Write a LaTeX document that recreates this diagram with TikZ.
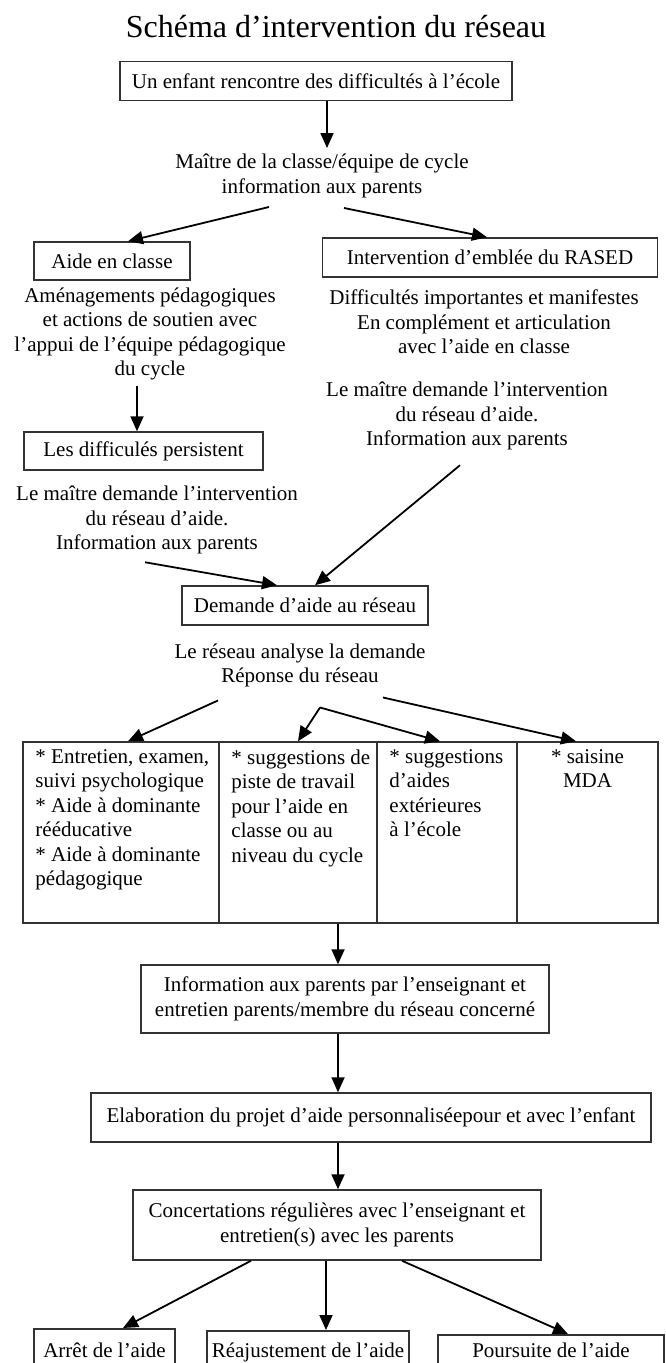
\documentclass[tikz,border=0pt]{standalone}
\usepackage{fontspec}
\setmainfont{Liberation Serif}
\usepackage{tikz}
\usetikzlibrary{arrows.meta,calc}
\tikzstyle{arrow} = [line width=1.8pt,-{Triangle[length=15pt,width=13pt]}]
\tikzstyle{box} = [draw=black!80,line width=1.5pt,inner sep=0pt,align=center]
\tikzstyle{txt} = [align=center,inner sep=0pt]
\tikzstyle{cell} = [draw=black!80,line width=1.5pt,inner sep=0pt,minimum height=181pt]
\tikzstyle{celltxt} = [align=left,inner sep=0pt,anchor=north west]

\begin{document}
\begin{tikzpicture}[x=1pt,y=-1pt,font=\fontsize{21}{24.5}\selectfont]
	\clip (0,0) rectangle (666,1363);
	\begin{scope}
		
		% Titre:
		\node[txt,font=\fontsize{32}{36}\selectfont] (titre) at (336,27) {Schéma d'intervention du réseau};
		
		% Haut du schema:
		% les boites et les textes libres sont places a des coordonnees
		\node[box,minimum width=392pt,minimum height=39pt] (enfant) at (316,81) {Un enfant rencontre des difficultés à l'école};
		\node[txt] (maitre) at (322,176) {Maître de la classe/équipe de cycle\\information aux parents};
		\node[box,minimum width=156pt,minimum height=38pt] (aide) at (112,261) {Aide en classe};
		\node[box,minimum width=335pt,minimum height=39pt] (rased) at (490,257.5) {Intervention d'emblée du RASED};
		\node[txt] (amenag) at (150,334) {Aménagements pédagogiques\\et actions de soutien avec\\l'appui de l'équipe pédagogique\\du cycle};
		\node[txt] (difficiles) at (484,322) {Difficultés importantes et manifestes\\En complément et articulation\\avec l'aide en classe};
		\node[txt] (demandeA) at (467,416) {Le maître demande l'intervention\\du réseau d'aide.\\Information aux parents};
		\node[box,minimum width=239pt,minimum height=38pt] (persist) at (143.5,451) {Les difficulés persistent};
		\node[txt] (demandeB) at (157,520) {Le maître demande l'intervention\\du réseau d'aide.\\Information aux parents};
		\node[box,minimum width=246pt,minimum height=39pt] (reseau) at (305,605.5) {Demande d'aide au réseau};
		\node[txt] (analyse) at (300,665.5) {Le réseau analyse la demande\\Réponse du réseau};
		
		% Tableau des reponses:
		\node[cell,minimum width=196pt] (c1) at (121,832.5) {};
		\node[cell,minimum width=158pt] (c2) at (298,832.5) {};
		\node[cell,minimum width=140pt] (c3) at (447,832.5) {};
		\node[cell,minimum width=141pt] (c4) at (587.5,832.5) {};
		\node[celltxt] (t1) at ($(c1.north west)+(13,8)$) {* Entretien, examen,\\suivi psychologique\\* Aide à dominante\\rééducative\\* Aide à dominante\\pédagogique};
		\node[celltxt] (t2) at ($(c2.north west)+(13,8)$) {* suggestions de\\piste de travail\\pour l'aide en\\classe ou au\\niveau du cycle};
		\node[celltxt] (t3) at ($(c3.north west)+(13,8)$) {* suggestions\\d'aides\\extérieures\\à l'école};
		\node[txt,anchor=north] (t4) at ($(c4.north)+(0,8)$) {* saisine\\MDA};
		
		% Bas du schema:
		\node[box,minimum width=408pt,minimum height=68pt] (info) at (345,999) {Information aux parents par l'enseignant et\\entretien parents/membre du réseau concerné};
		\node[box,minimum width=560pt,minimum height=49pt] (elab) at (371,1117.5) {Elaboration du projet d'aide personnaliséepour et avec l'enfant};
		\node[box,minimum width=408pt,minimum height=70pt] (concert) at (337,1225) {Concertations régulières avec l'enseignant et\\entretien(s) avec les parents};
		\node[box,anchor=north,minimum width=141pt,inner ysep=6pt,text height=23pt,text depth=30pt] (arret) at (104.5,1328) {Arrêt de l'aide};
		\node[box,anchor=north,minimum width=202pt,inner ysep=6pt,text height=21pt,text depth=30pt] (reajust) at (308,1330) {Réajustement de l'aide};
		\node[box,anchor=north,minimum width=226pt,inner ysep=6pt,text height=17pt,text depth=30pt] (poursuite) at (551,1334) {Poursuite de l'aide};
		
		% Fleches:
		\draw[arrow] ($(enfant.south)+(11,0)$) -- ($(maitre.north)+(5,-6)$);
		\draw[arrow] ($(maitre.south)+(-53,9)$) -- ($(aide.north)+(16,0)$);
		\draw[arrow] ($(maitre.south)+(22,10)$) -- ($(rased.north)+(-3,0)$);
		\draw[arrow] ($(amenag.south)+(-13,5)$) -- ($(persist.north)+(-6.5,0)$);
		\draw[arrow] ($(demandeB.south)+(-12,8)$) -- ($(reseau.north)+(-28,0)$);
		\draw[arrow] ($(demandeA.south)+(-7,15)$) -- ($(reseau.north)+(10,0)$);
		
		\coordinate (split) at ($(analyse.south)+(20,20)$);
		\draw[arrow] ($(analyse.south)+(-82,13)$) -- ($(c1.north)+(7,0)$);
		\draw[arrow] (split) -- (c2.north);
		\draw[arrow] (split) -- ($(c3.north)+(-7,0)$);
		\draw[arrow] ($(analyse.south)+(83,10)$) -- ($(c4.north)+(-11.5,0)$);
		
		\draw[arrow] ($(c2.south)+(40,0)$) -- ($(info.north)+(-7,0)$);
		\draw[arrow] ($(info.south)+(-7,0)$) -- ($(elab.north)+(-33,0)$);
		\draw[arrow] ($(elab.south)+(-33,0)$) -- ($(concert.north)+(1,0)$);
		\draw[arrow] ($(concert.south)+(-86,0)$) -- ($(arret.north)+(18.5,0)$);
		\draw[arrow] ($(concert.south)+(-11,0)$) -- ($(reajust.north)+(18,0)$);
		\draw[arrow] ($(concert.south)+(65,0)$) -- ($(poursuite.north)+(17,0)$);
		
	\end{scope}
\end{tikzpicture}
\end{document}
